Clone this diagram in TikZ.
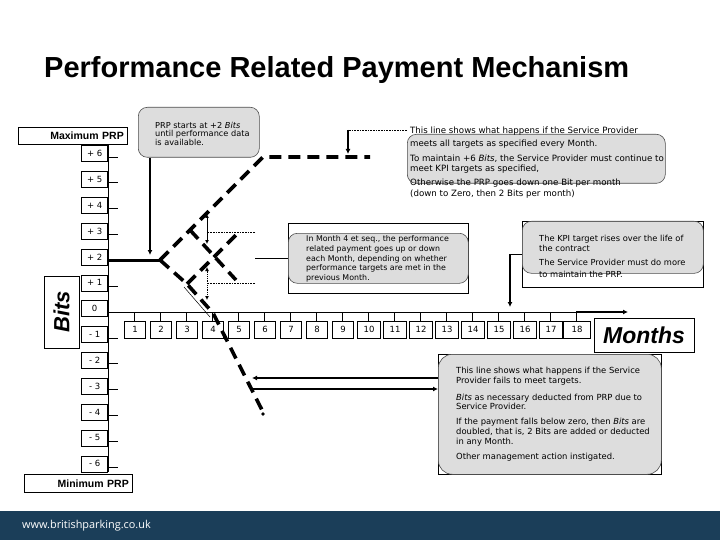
\documentclass[tikz,border=0pt]{standalone}
\usepackage{fontspec}
\setmainfont{Liberation Sans}
\newfontfamily\callfont{DejaVu Sans}
\newfontfamily\footfont{Open Sans}
\usetikzlibrary{arrows.meta}
\definecolor{callgray}{RGB}{221,221,221}
\definecolor{footblue}{RGB}{27,62,89}
\begin{document}
\begin{tikzpicture}[x=1pt,y=-1pt,
  lvbox/.style={draw, line width=.6pt, minimum width=26pt, minimum height=16pt, inner sep=0pt, font=\callfont\fontsize{8.5}{9}\selectfont},
  mbox/.style={draw, line width=.6pt, minimum height=17pt, inner sep=0pt, font=\callfont\fontsize{8.5}{9}\selectfont},
  callbox/.style={fill=callgray, draw=black!70, line width=.6pt, rounded corners=9pt, inner sep=0pt, anchor=north west},
  framebox/.style={draw, line width=.6pt, inner sep=0pt, anchor=north west, fill=white},
  calltext/.style={font=\callfont\fontsize{8.4}{10}\selectfont, align=left, inner sep=0pt, anchor=north west},
  bigdash/.style={line width=3.6pt, dash pattern=on 12pt off 7pt},
  arr/.style={line width=1.6pt, -{Latex[length=5pt,width=5pt]}},
  thinarr/.style={line width=.8pt, {Latex[length=4pt,width=4pt]}-{Latex[length=4pt,width=4pt]}},
  axisline/.style={line width=.6pt}
]
\useasboundingbox (0,0) rectangle (720,540);

% footer
\fill[footblue] (0,511) rectangle (720,540);
\node[anchor=base west, text=white, inner sep=0pt, font=\footfont\fontsize{10.9}{12}\selectfont] (url) at (22,528.5) {www.britishparking.co.uk};

% title
\node[anchor=base west, inner sep=0pt, font=\bfseries\fontsize{29}{34}\selectfont] (title) at (44,78) {Performance Related Payment Mechanism};

% level boxes
\foreach \n/\lab/\nm in {6/{+ 6}/P6,5/{+ 5}/P5,4/{+ 4}/P4,3/{+ 3}/P3,2/{+ 2}/P2,1/{+ 1}/P1,0/{0}/Z,-1/{- 1}/M1,-2/{- 2}/M2,-3/{- 3}/M3,-4/{- 4}/M4,-5/{- 5}/M5,-6/{- 6}/M6}{
  \pgfmathsetmacro\ty{312-25.85*\n}
  \node[lvbox, anchor=south east] (lv\nm) at (108,\ty+5) {\lab};
}
\foreach \n in {6,5,4,3,1,-1,-2,-3,-4,-5,-6}{
  \draw[axisline] (108,{312-25.85*\n}) -- (118,{312-25.85*\n});
}
\draw[axisline] (lvP6.north east) -- (lvM6.south east);

% max / min
\node[draw, line width=.6pt, anchor=north west, minimum height=17pt, text width=102pt, inner xsep=3.5pt, inner ysep=0pt, align=right, font=\bfseries\fontsize{10.5}{12}\selectfont] (maxprp) at (18,127) {Maximum PRP\hspace*{3pt}};
\node[draw, line width=.6pt, anchor=north west, minimum height=18pt, text width=101pt, inner xsep=3.5pt, inner ysep=0pt, align=right, font=\bfseries\fontsize{10.5}{12}\selectfont] (minprp) at (24,474) {Minimum PRP\hspace*{2pt}};

% Bits label
\node[draw, line width=.6pt, rotate=90, minimum width=72pt, minimum height=35pt, inner sep=0pt, font=\bfseries\itshape\fontsize{22}{24}\selectfont] (bits) at (61.5,312) {Bits};

% month axis
\coordinate (origin) at (108,312);
\coordinate (m18top) at (576,312);
\coordinate (mEnd) at (628,312);
\draw[axisline] (origin) -- (m18top);
\draw[arr, line width=2pt] (m18top) -- (mEnd);
\foreach \m in {1,...,18}{
  \pgfmathsetmacro\mx{108+26*\m}
  \pgfmathsetmacro\mw{ifthenelse(\m==18,27,ifthenelse(\m>9,23,21))}
  \draw[axisline] (\mx,312) -- (\mx,321);
  \node[mbox, minimum width=\mw pt, anchor=north] (mon\m) at (\mx+1,321) {\m};
}
\node[draw, line width=.6pt, minimum width=100pt, minimum height=34pt, inner sep=0pt, font=\bfseries\itshape\fontsize{23}{26}\selectfont] (months) at (644,335) {Months};

% performance lines
\coordinate (split) at (160,260);
\coordinate (upTop) at (263,157);
\coordinate (upEnd) at (370,157);
\coordinate (dn1) at (187,284);
\coordinate (dn2) at (213,313);
\coordinate (dnEnd) at (262,410);
\coordinate (brA1) at (190,230);
\coordinate (brA2) at (236,280);
\coordinate (brB2) at (236,235);
\draw[line width=3pt] (lvP2.east |- split) -- (split);
\draw[bigdash] (split) -- (upTop) -- (upEnd);
\draw[bigdash] (split) -- (dn1) -- (dn2) -- (dnEnd);
\fill (263,414) circle (1.8pt);
\draw[bigdash] (brA1) -- (brA2);
\draw[bigdash] (dn1) -- (brB2);
\draw[line width=.5pt] (184,287) -- (210,317);

% vertical double arrows
\coordinate (uA1) at (207,214);
\coordinate (uA2) at (207,244);
\coordinate (lA1) at (207,267);
\coordinate (lA2) at (207,300);
\draw[thinarr] (uA1) -- (uA2);
\draw[thinarr, densely dotted] (lA1) -- (lA2);

% callout: PRP starts
\node[callbox, minimum width=121pt, minimum height=50pt] (prpbox) at (138,107) {};
\node[calltext, font=\callfont\fontsize{8.2}{8.5}\selectfont] (prptext) at (155,121.8) {PRP starts at +2 \textit{Bits}\\ until performance data\\ is available.};
\coordinate (prpTip) at (150,255);
\draw[arr] (prpbox.south -| prpTip) -- (prpTip);

% callout: top right
\node[callbox, minimum width=258pt, minimum height=49pt] (tbox) at (407,134) {};
\node[calltext, font=\callfont\fontsize{8.65}{10}\selectfont] (ttext) at (410,126.4) {This line shows what happens if the Service Provider\\[3.3pt] meets all targets as specified every Month.\\[5pt] To maintain +6 \textit{Bits}, the Service Provider must continue to\\ meet KPI targets as specified,\\[4.4pt] Otherwise the PRP goes down one Bit per month\\[0.6pt] (down to Zero, then 2 Bits per month)};
\coordinate (tKnee) at (348,130);
\coordinate (tTip) at (348,154);
\draw[densely dotted, line width=.6pt] (tbox.west |- tKnee) -- (tKnee);
\draw[arr] (tKnee) -- (tTip);

% callout: Month 4
\node[framebox, minimum width=180pt, minimum height=70pt] (m4frame) at (288,223) {};
\node[callbox, minimum width=180pt, minimum height=50pt] (m4box) at (288,233) {};
\node[calltext, font=\callfont\fontsize{7.9}{9.75}\selectfont] (m4text) at (306,235.5) {In Month 4 et seq., the performance\\ related payment goes up or down\\ each Month, depending on whether\\ performance targets are met in the\\ previous Month.};
\coordinate (m4J) at (255,258);
\coordinate (dA) at (255,232);
\coordinate (dB) at (255,283);
\draw[line width=.8pt] (m4frame.west |- m4J) -- (m4J);
\draw[densely dotted, line width=.6pt] (dA) -- (uA1 |- dA);
\draw[densely dotted, line width=.6pt] (dB) -- (uA1 |- dB);

% callout: KPI
\node[framebox, minimum width=181pt, minimum height=66pt] (kframe) at (522,221) {};
\node[callbox, minimum width=181pt, minimum height=52pt] (kbox) at (522,221) {};
\node[calltext, font=\callfont\fontsize{8.3}{10}\selectfont] (ktext) at (539,235) {The KPI target rises over the life of\\ the contract\\[4pt] The Service Provider must do more\\[2pt] to maintain the PRP.};
\coordinate (kTip) at (510,307);
\draw[arr] (kframe.west) -| (kTip);

% callout: bottom
\node[framebox, minimum width=223pt, minimum height=120pt] (bframe) at (438,354) {};
\node[callbox, rounded corners=14pt, minimum width=223pt, minimum height=120pt] (bbox) at (438,354) {};
\node[calltext] (btext) at (456,367.1) {This line shows what happens if the Service\\[-0.5pt] Provider fails to meet targets.\\[7pt] \textit{Bits} as necessary deducted from PRP due to\\[-0.5pt] Service Provider.\\[5pt] If the payment falls below zero, then \textit{Bits} are\\ doubled, that is, 2 Bits are added or deducted\\ in any Month.\\[5pt] Other management action instigated.};
\coordinate (bL1) at (252,378);
\coordinate (bL2) at (252,389);
\draw[arr] (bframe.west |- bL1) -- (bL1);
\draw[arr] (bL2) -- (bframe.west |- bL2);
\end{tikzpicture}
\end{document}
